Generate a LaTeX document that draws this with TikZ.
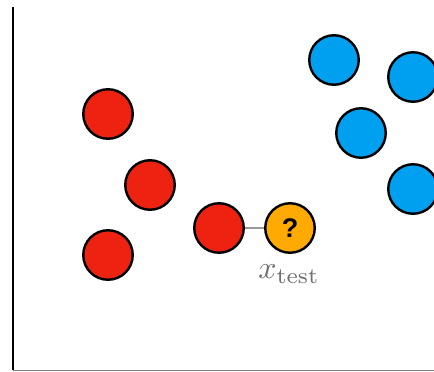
\documentclass[tikz,border=0pt]{standalone}
\usepackage{fontspec}
\newfontfamily\qfont{Liberation Sans}
\usepackage{tikz}
\usepackage{graphicx}
\definecolor{ptred}{RGB}{238,34,17}
\definecolor{ptblue}{RGB}{0,160,240}
\definecolor{ptorange}{RGB}{255,170,0}
\definecolor{lblgray}{RGB}{110,110,110}
\tikzset{
  pt/.style={circle, draw=black, line width=2.4pt, minimum size=49.5pt, inner sep=0pt},
  redpt/.style={pt, fill=ptred},
  bluept/.style={pt, fill=ptblue},
  testpt/.style={pt, fill=ptorange, font=\qfont\bfseries\fontsize{27}{29}\selectfont},
}
\begin{document}
\begin{tikzpicture}[x=1pt,y=-1pt]
\useasboundingbox (0,0) rectangle (434,372);
\coordinate (axtop) at (13,7);
\coordinate (axorig) at (13,370);
\coordinate (axright) at (440,370);
\draw[line width=0.6pt, gray] (axorig) -- (axright);
\draw[line width=2.6pt, black] (axtop) -- (axorig);
\node[redpt] (r1) at (108,114) {};
\node[redpt] (r2) at (150,185) {};
\node[redpt] (r3) at (108,255) {};
\node[redpt] (r4) at (219,228) {};
\node[testpt] (t) at (290,228) {?};
\node[bluept] (b1) at (334,60) {};
\node[bluept] (b2) at (413,77) {};
\node[bluept] (b3) at (361,133) {};
\node[bluept] (b4) at (413,189) {};
\draw[line width=1.8pt, gray!80] (r4) -- (t);
\node[text=lblgray, inner sep=0pt] (lbl) at (289,274) {\scalebox{3.2}{$x_{\mathrm{test}}$}};
\end{tikzpicture}
\end{document}
